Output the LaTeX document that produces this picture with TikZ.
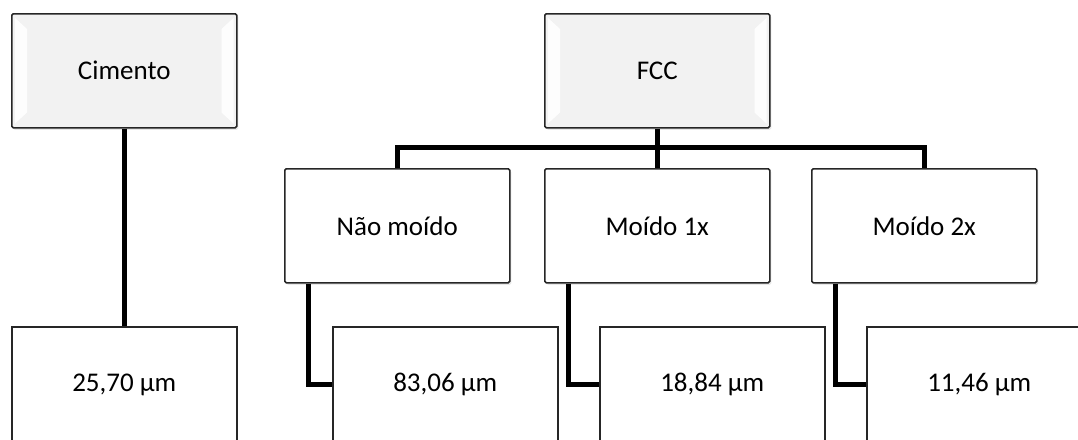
\documentclass[tikz,border=0pt]{standalone}
\usepackage{fontspec}
\setmainfont{Carlito}
\usetikzlibrary{calc,shadows}
\begin{document}
\begin{tikzpicture}[x=1pt,y=-1pt,
  box/.style={draw=black!85, line width=1.5pt, rounded corners=1.5pt, fill=white,
    minimum width=225pt, minimum height=114pt, inner sep=0pt, anchor=north west,
    font=\fontsize{27}{31}\selectfont,
    drop shadow={shadow xshift=1.5pt, shadow yshift=-2pt, opacity=0.18}},
  topbox/.style={box, fill=black!5},
  valbox/.style={draw=black!85, line width=1.5pt, fill=white,
    minimum width=225pt, minimum height=116pt, inner sep=0pt, anchor=north west,
    font=\fontsize{27}{31}\selectfont},
  link/.style={line width=5pt, draw=black},
  bevel/.style={fill=white, draw=none, opacity=0.9}]
\useasboundingbox (0,0) rectangle (1078,439);
\begin{scope}
\clip (0,0) rectangle (1078,439);
% top boxes
\node[topbox] (cim) at (11,13) {};
\node[topbox] (fcc) at (544,13) {};
% bevels
\foreach \n in {cim,fcc}{
  \fill[bevel] ($(\n.north west)+(4,5)$) -- ($(\n.north west)+(16,16)$) -- ($(\n.south west)+(16,-16)$) -- ($(\n.south west)+(4,-5)$) -- cycle;
  \fill[bevel] ($(\n.north east)+(-4,5)$) -- ($(\n.north east)+(-16,16)$) -- ($(\n.south east)+(-16,-16)$) -- ($(\n.south east)+(-4,-5)$) -- cycle;
}
\node[font=\fontsize{27}{31}\selectfont] (cimt) at (cim.center) {Cimento};
\node[font=\fontsize{27}{31}\selectfont] (fcct) at (fcc.center) {FCC};
% middle boxes
\node[box] (nao) at (284,168) {Não moído};
\node[box] (m1) at (544,168) {Moído 1x};
\node[box] (m2) at (811,168) {Moído 2x};
% value boxes
\node[valbox] (v25) at (11,326) {25,70 µm};
\node[valbox] (v83) at (332,326) {83,06 µm};
\node[valbox] (v18) at (599,326) {18,84 µm};
\node[valbox] (v11) at (866,326) {11,46 µm};
% connectors
\coordinate (bar) at (0,147);
\draw[link] (cim.south) -- (v25.north);
\draw[link] (fcc.south) -- (fcc.south |- bar);
\draw[link] (m1.north) -- (m1.north |- bar);
\draw[link, line join=miter] (nao.north) -- (nao.north |- bar) -- (m2.north |- bar) -- (m2.north);
\draw[link, line join=miter] ($(nao.south west)+(24,0)$) |- (v83.west);
\draw[link, line join=miter] ($(m1.south west)+(24,0)$) |- (v18.west);
\draw[link, line join=miter] ($(m2.south west)+(24,0)$) |- (v11.west);
\end{scope}
\end{tikzpicture}
\end{document}
